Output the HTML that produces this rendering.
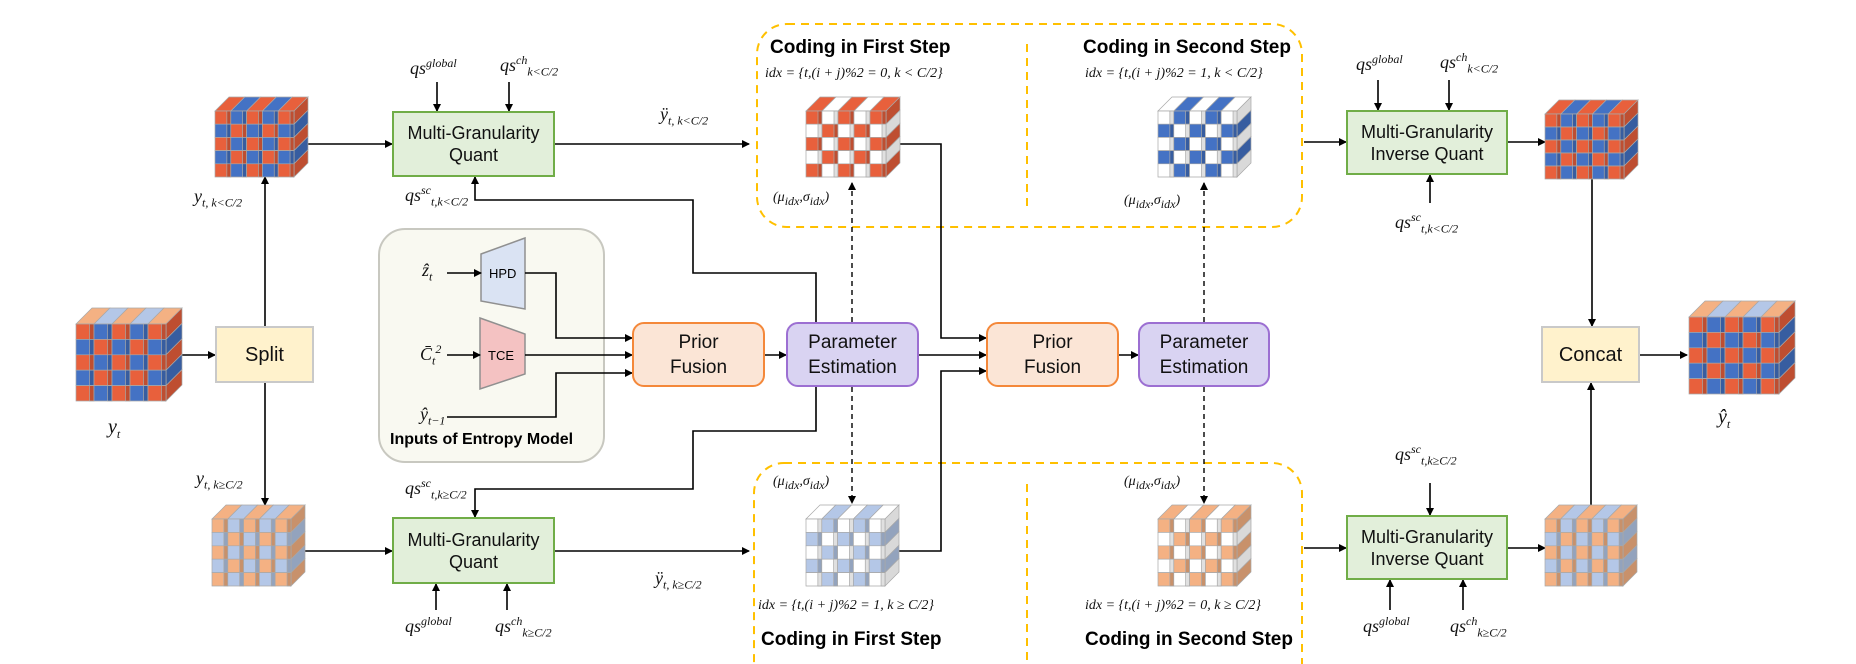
<!DOCTYPE html>
<html><head><meta charset="utf-8"><style>
body{margin:0;background:#fff;}
#c{position:relative;width:1856px;height:664px;overflow:hidden;font-family:"Liberation Sans",sans-serif;}
.t{position:absolute;white-space:nowrap;}
.m{font-family:"Liberation Serif",serif;font-style:italic;font-size:18px;color:#111;}
.b{font-weight:bold;font-size:19px;}
.bx{position:absolute;display:flex;align-items:center;justify-content:center;text-align:center;font-size:17px;line-height:20px;box-sizing:border-box;color:#111;}
sub,sup{font-size:12px;}
</style></head><body><div id="c">
<svg id="s" width="1856" height="664" style="position:absolute;left:0;top:0">
<defs><marker id="a" markerWidth="8" markerHeight="8" refX="7" refY="4" orient="auto" markerUnits="userSpaceOnUse"><path d="M0,0 L8,4 L0,8 z" fill="#000"/></marker></defs>
<rect x="757" y="24" width="545" height="203" rx="30" fill="none" stroke="#ffc000" stroke-width="2" stroke-dasharray="8,6"/>
<rect x="754" y="463" width="548" height="230" rx="30" fill="none" stroke="#ffc000" stroke-width="2" stroke-dasharray="8,6"/>
<line x1="1027" y1="44" x2="1027" y2="207" stroke="#ffc000" stroke-width="2" stroke-dasharray="8,6"/>
<line x1="1027" y1="484" x2="1027" y2="660" stroke="#ffc000" stroke-width="2" stroke-dasharray="8,6"/>
<rect x="379" y="229" width="225" height="233" rx="26" fill="#f9f9f1" stroke="#c8c8c0" stroke-width="2"/>
<polygon points="481,254 525,238 525,309 481,301" fill="#dae3f3" stroke="#909090" stroke-width="1.5"/>
<polygon points="480,318 525,334 525,374 480,389" fill="#f4c2c2" stroke="#909090" stroke-width="1.5"/>
<g stroke="#000" stroke-width="1.6" fill="none" marker-end="url(#a)">
<path d="M308,144 H392"/><path d="M555,144 H749"/>
<path d="M182,355 H215"/><path d="M265,326 V177"/><path d="M265,383 V505"/>
<path d="M305,551 H392"/><path d="M555,551 H749"/>
<path d="M437,82 V111"/><path d="M509,82 V111"/><path d="M436,610 V584"/><path d="M507,610 V584"/>
<path d="M816,322 V273 H693 V200 H475 V177"/>
<path d="M816,387 V431 H693 V489 H475 V517"/>
<path d="M447,273 H481"/><path d="M447,355 H480"/>
<path d="M525,273 H556 V338 H632"/><path d="M525,355 H632"/><path d="M447,417 H556 V373 H632"/>
<path d="M765,355 H786"/><path d="M919,355 H986"/>
<path d="M900,144 H941 V338 H986"/><path d="M899,551 H941 V371 H986"/>
<path d="M1119,355 H1138"/>
<path d="M1304,142 H1346"/><path d="M1508,142 H1545"/>
<path d="M1378,80 V110"/><path d="M1449,80 V110"/><path d="M1430,203 V175"/>
<path d="M1592,179 V326"/><path d="M1640,355 H1687"/>
<path d="M1304,548 H1346"/><path d="M1508,548 H1545"/>
<path d="M1430,483 V515"/><path d="M1390,610 V580"/><path d="M1463,610 V580"/>
<path d="M1591,505 V383"/>
</g>
<g stroke="#000" stroke-width="1.4" fill="none" stroke-dasharray="5,4" marker-end="url(#a)">
<path d="M852,322 V183"/><path d="M852,387 V503"/><path d="M1204,322 V183"/><path d="M1204,387 V503"/>
</g>
</svg>
<div class="bx" style="left:215px;top:326px;width:99px;height:57px;background:#fff2cc;border:2px solid #c9c9c9;font-size:20px">Split</div>
<div class="bx" style="left:1541px;top:326px;width:99px;height:57px;background:#fff2cc;border:2px solid #c9c9c9;font-size:20px">Concat</div>
<div class="bx" style="left:392px;top:111px;width:163px;height:66px;background:#e2efda;border:2px solid #70ad47;font-size:18px;line-height:22px">Multi-Granularity<br>Quant</div>
<div class="bx" style="left:392px;top:517px;width:163px;height:67px;background:#e2efda;border:2px solid #70ad47;font-size:18px;line-height:22px">Multi-Granularity<br>Quant</div>
<div class="bx" style="left:1346px;top:110px;width:162px;height:65px;background:#e2efda;border:2px solid #70ad47;font-size:18px;line-height:22px">Multi-Granularity<br>Inverse Quant</div>
<div class="bx" style="left:1346px;top:515px;width:162px;height:65px;background:#e2efda;border:2px solid #70ad47;font-size:18px;line-height:22px">Multi-Granularity<br>Inverse Quant</div>
<div class="bx" style="left:632px;top:322px;width:133px;height:65px;background:#fbe5d6;border:2px solid #f4883a;border-radius:12px;font-size:19px;line-height:25px">Prior<br>Fusion</div>
<div class="bx" style="left:986px;top:322px;width:133px;height:65px;background:#fbe5d6;border:2px solid #f4883a;border-radius:12px;font-size:19px;line-height:25px">Prior<br>Fusion</div>
<div class="bx" style="left:786px;top:322px;width:133px;height:65px;background:#d9d3f2;border:2px solid #9c6fd2;border-radius:12px;font-size:19px;line-height:25px">Parameter<br>Estimation</div>
<div class="bx" style="left:1138px;top:322px;width:132px;height:65px;background:#d9d3f2;border:2px solid #9c6fd2;border-radius:12px;font-size:19px;line-height:25px">Parameter<br>Estimation</div>
<div class="t" style="left:489px;top:266px;font-size:13px">HPD</div>
<div class="t" style="left:488px;top:348px;font-size:13px">TCE</div>
<div class="t b" style="left:390px;top:431px;font-size:16px">Inputs of Entropy Model</div>
<div class="t b" style="left:770px;top:37px">Coding in First Step</div>
<div class="t b" style="left:1083px;top:37px">Coding in Second Step</div>
<div class="t b" style="left:761px;top:629px">Coding in First Step</div>
<div class="t b" style="left:1085px;top:629px">Coding in Second Step</div>
<div class="t m" style="left:765px;top:66px;font-size:14px">idx = {t,(i + j)%2 = 0, k &lt; C/2}</div>
<div class="t m" style="left:1085px;top:66px;font-size:14px">idx = {t,(i + j)%2 = 1, k &lt; C/2}</div>
<div class="t m" style="left:758px;top:598px;font-size:14px">idx = {t,(i + j)%2 = 1, k ≥ C/2}</div>
<div class="t m" style="left:1085px;top:598px;font-size:14px">idx = {t,(i + j)%2 = 0, k ≥ C/2}</div>
<div class="t m" style="left:773px;top:190px;font-size:14px">(μ<sub>idx</sub>,σ<sub>idx</sub>)</div>
<div class="t m" style="left:1124px;top:193px;font-size:14px">(μ<sub>idx</sub>,σ<sub>idx</sub>)</div>
<div class="t m" style="left:773px;top:474px;font-size:14px">(μ<sub>idx</sub>,σ<sub>idx</sub>)</div>
<div class="t m" style="left:1124px;top:474px;font-size:14px">(μ<sub>idx</sub>,σ<sub>idx</sub>)</div>
<div class="t m" style="left:410px;top:56px">qs<sup>global</sup></div>
<div class="t m" style="left:500px;top:53px">qs<sup>ch</sup><sub>k&lt;C/2</sub></div>
<div class="t m" style="left:405px;top:183px">qs<sup>sc</sup><sub>t,k&lt;C/2</sub></div>
<div class="t m" style="left:405px;top:476px">qs<sup>sc</sup><sub>t,k≥C/2</sub></div>
<div class="t m" style="left:405px;top:614px">qs<sup>global</sup></div>
<div class="t m" style="left:495px;top:614px">qs<sup>ch</sup><sub>k≥C/2</sub></div>
<div class="t m" style="left:1356px;top:52px">qs<sup>global</sup></div>
<div class="t m" style="left:1440px;top:50px">qs<sup>ch</sup><sub>k&lt;C/2</sub></div>
<div class="t m" style="left:1395px;top:210px">qs<sup>sc</sup><sub>t,k&lt;C/2</sub></div>
<div class="t m" style="left:1395px;top:442px">qs<sup>sc</sup><sub>t,k≥C/2</sub></div>
<div class="t m" style="left:1363px;top:614px">qs<sup>global</sup></div>
<div class="t m" style="left:1450px;top:614px">qs<sup>ch</sup><sub>k≥C/2</sub></div>
<div class="t m" style="left:194px;top:186px">y<sub>t, k&lt;C/2</sub></div>
<div class="t m" style="left:196px;top:468px">y<sub>t, k≥C/2</sub></div>
<div class="t m" style="left:660px;top:104px">ÿ<sub>t, k&lt;C/2</sub></div>
<div class="t m" style="left:655px;top:568px">ÿ<sub>t, k≥C/2</sub></div>
<div class="t m" style="left:108px;top:416px;font-size:20px">y<sub>t</sub></div>
<div class="t m" style="left:1718px;top:406px;font-size:20px">ŷ<sub>t</sub></div>
<div class="t m" style="left:422px;top:260px">ẑ<sub>t</sub></div>
<div class="t m" style="left:420px;top:342px">C̄<sub>t</sub><sup>2</sup></div>
<div class="t m" style="left:420px;top:404px">ŷ<sub>t−1</sub></div>
</div>
<script>
var s=document.getElementById('s'),NS='http://www.w3.org/2000/svg';
function P(pts,f){var p=document.createElementNS(NS,'polygon');p.setAttribute('points',pts);p.setAttribute('fill',f);p.setAttribute('stroke','#a8a8a8');p.setAttribute('stroke-width','0.7');s.appendChild(p);}
function dk(c){var n=parseInt(c.slice(1),16),r=n>>16,g=(n>>8)&255,b=n&255;return 'rgb('+(r*.82|0)+','+(g*.82|0)+','+(b*.82|0)+')';}
function cube(x,y,W,H,fn,topFn){var d=Math.round(W*0.15),fw=W-d,fh=H-d,cw=fw/5,ch=fh/5,c,r;
for(c=0;c<5;c++){var col=topFn?topFn(c):fn(0,c);var x0=x+c*cw;P(x0+','+(y+d)+' '+(x0+d)+','+y+' '+(x0+cw+d)+','+y+' '+(x0+cw)+','+(y+d),col);}
for(r=0;r<5;r++){var y0=y+d+r*ch,col=fn(r,4)=='#ffffff'?'#d9d9d9':dk(fn(r,4));P((x+fw)+','+y0+' '+(x+W)+','+(y0-d)+' '+(x+W)+','+(y0-d+ch)+' '+(x+fw)+','+(y0+ch),col);}
for(r=0;r<5;r++)for(c=0;c<5;c++){var x0=x+c*cw,y0=y+d+r*ch,f=fn(r,c);P(x0+','+y0+' '+(x0+cw)+','+y0+' '+(x0+cw)+','+(y0+ch)+' '+x0+','+(y0+ch),f);
var dd=cw*0.25;P((x0+cw-dd)+','+y0+' '+(x0+cw)+','+y0+' '+(x0+cw)+','+(y0+ch)+' '+(x0+cw-dd)+','+(y0+ch),f=='#ffffff'?'#e0e0e0':dk(f));}}
var R='#e8603c',B='#4472c4',O='#f4b183',L='#b4c7e7',Wt='#ffffff';
function ck(a,b){return function(r,c){return (r+c)%2?b:a;};}
cube(76,308,106,93,ck(R,B),function(c){return c%2?L:O;});
cube(215,97,93,80,ck(R,B));cube(1545,100,93,79,ck(R,B));
cube(1689,301,106,93,ck(R,B),function(c){return c%2?L:O;});
cube(212,505,93,81,ck(O,L));cube(1545,505,92,81,ck(O,L));
cube(806,97,94,80,ck(R,Wt));cube(1158,97,93,80,ck(Wt,B));
cube(806,505,93,81,ck(Wt,L));cube(1158,505,93,81,ck(O,Wt));
</script>
</body></html>
